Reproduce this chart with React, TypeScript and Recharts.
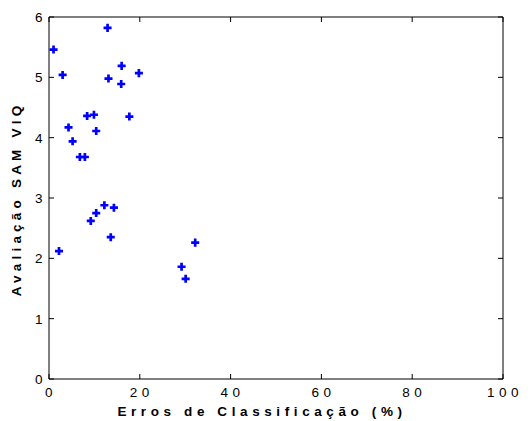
import React from 'react';
import { ScatterChart, Scatter, XAxis, YAxis, ZAxis, ReferenceLine } from 'recharts';

// Erros de classificação (%) vs avaliação SAM VIQ
const errosPct = [1.0, 12.9, 3.0, 16.0, 19.8, 13.1, 15.9, 8.4, 9.9, 17.7, 4.3, 10.4, 5.2, 6.8, 7.9,
  2.2, 9.2, 10.4, 12.2, 14.3, 13.6, 29.2, 30.1, 32.2];
const notaSamviq = [5.46, 5.82, 5.04, 5.19, 5.07, 4.98, 4.89, 4.36, 4.38, 4.35, 4.17, 4.11, 3.94, 3.68, 3.68,
  2.12, 2.62, 2.75, 2.88, 2.84, 2.35, 1.86, 1.66, 2.26];

const xTicks = [0, 20, 40, 60, 80, 100];
const yTicks = [0, 1, 2, 3, 4, 5, 6];

const points = errosPct.map((x, i) => ({ x, y: notaSamviq[i] }));

const PLOT_W = 454;
const PLOT_H = 362;
const TICK_LEN = 5;
const tickFont = { fontFamily: 'Liberation Sans, Arial, sans-serif', fontSize: 13.5, letterSpacing: 4.5 };
const titleFont: React.CSSProperties = {
  position: 'absolute', whiteSpace: 'nowrap', fontFamily: 'Liberation Sans, Arial, sans-serif',
  fontWeight: 'bold', fontSize: 13.5, color: '#000',
};

const XTick = ({ x, y, payload }: any) => (
  <g>
    <line x1={x} x2={x} y1={y} y2={y - TICK_LEN} stroke="#000" />
    <line x1={x} x2={x} y1={y - PLOT_H} y2={y - PLOT_H + TICK_LEN} stroke="#000" />
    <text x={x + 2} y={y + 18} textAnchor="middle" fill="#000" style={tickFont}>{payload.value}</text>
  </g>
);

const YTick = ({ x, y, payload }: any) => (
  <g>
    <line x1={x} x2={x + TICK_LEN} y1={y} y2={y} stroke="#000" />
    <line x1={x + PLOT_W} x2={x + PLOT_W - TICK_LEN} y1={y} y2={y} stroke="#000" />
    <text x={x - 2} y={y + 5} textAnchor="end" fill="#000" style={tickFont}>{payload.value}</text>
  </g>
);

export default function App() {
  return (
    <div style={{ position: 'absolute', left: 0, top: 0, width: 530, height: 421, background: '#fff' }}>
      <ScatterChart width={530} height={421} margin={{ top: 17, right: 27, bottom: 41, left: 48 }}>
        <XAxis type="number" dataKey="x" domain={[0, 100]} ticks={xTicks} height={1}
          tickSize={0} tickMargin={0} tick={<XTick />} stroke="#000" interval={0} />
        <YAxis type="number" dataKey="y" domain={[0, 6]} ticks={yTicks} width={1}
          tickSize={0} tickMargin={0} tick={<YTick />} stroke="#000" interval={0} />
        <ZAxis range={[36, 36]} />
        <ReferenceLine y={6} stroke="#000" ifOverflow="extendDomain" />
        <ReferenceLine x={100} stroke="#000" ifOverflow="extendDomain" />
        <Scatter data={points} fill="#0000ff" shape="cross" isAnimationActive={false} />
      </ScatterChart>
      <div style={{ ...titleFont, letterSpacing: 4.2, left: 16, top: 199, transform: 'translate(-50%, -50%) rotate(-90deg)' }}>
        Avaliação SAM VIQ
      </div>
      <div style={{ ...titleFont, letterSpacing: 4.6, left: 262, top: 411, transform: 'translate(-50%, -50%)' }}>
        Erros de Classificação (%)
      </div>
    </div>
  );
}
